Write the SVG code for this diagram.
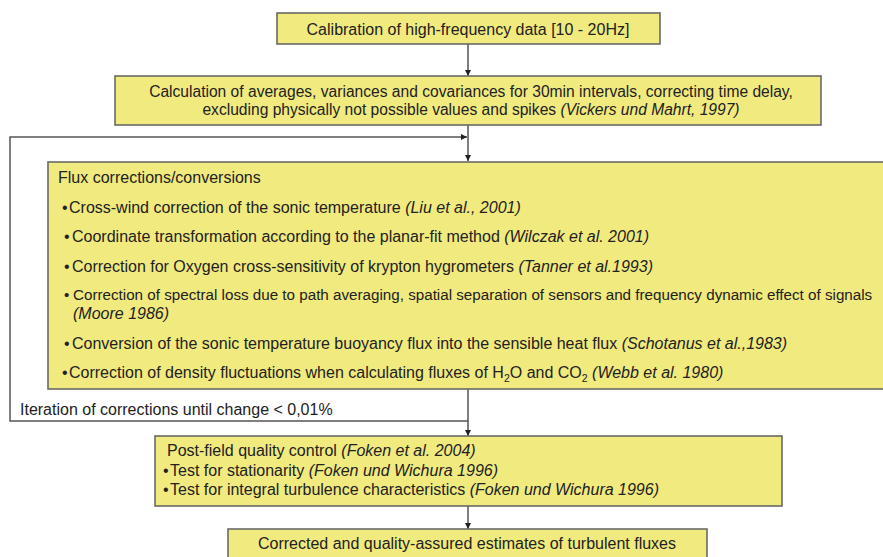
<svg xmlns="http://www.w3.org/2000/svg" width="883" height="557" viewBox="0 0 883 557">
  <style>
    .box { fill: #f1ea7e; stroke: #6a6a66; stroke-width: 1.6; }
    text { font-family: "Liberation Sans", Arial, sans-serif; font-size: 16px; fill: #222; }
    .c { text-anchor: middle; }
    .i { font-style: italic; }
    .sub { font-size: 10.5px; }
    .line { fill: none; stroke: #555; stroke-width: 1.5; }
  </style>
  <defs>
    <marker id="arr" viewBox="0 0 10 10" refX="10" refY="5" markerWidth="6" markerHeight="6" markerUnits="userSpaceOnUse" orient="auto">
      <path d="M0,0 L10,5 L0,10 Z" fill="#222"/>
    </marker>
  </defs>

  <g id="connectors">
    <line class="line" x1="468" y1="44" x2="468" y2="76" marker-end="url(#arr)"/>
    <line class="line" x1="468" y1="125" x2="468" y2="161" marker-end="url(#arr)"/>
    <path class="line" d="M468,389 V421 H10 V137 H467" marker-end="url(#arr)"/>
    <line class="line" x1="468" y1="421" x2="468" y2="436" marker-end="url(#arr)"/>
    <line class="line" x1="468" y1="506" x2="468" y2="529" marker-end="url(#arr)"/>
  </g>

  <g id="calibration">
    <rect class="box" x="277" y="13" width="383" height="31"/>
    <text class="c" x="468" y="35">Calibration of high-frequency data [10 - 20Hz]</text>
  </g>

  <g id="averages">
    <rect class="box" x="115" y="76" width="706" height="49"/>
    <text class="c" x="471" y="97" style="font-size:15.6px">Calculation of averages, variances and covariances for 30min intervals, correcting time delay,</text>
    <text class="c" x="471" y="115" style="font-size:15.6px">excluding physically not possible values and spikes <tspan class="i">(Vickers und Mahrt, 1997)</tspan></text>
  </g>

  <g id="flux-corrections">
    <rect class="box" x="48" y="162" width="845" height="227"/>
    <text x="58" y="183">Flux corrections/conversions</text>
    <text x="62" y="213">•<tspan x="69">Cross-wind correction of the sonic temperature </tspan><tspan class="i">(Liu et al., 2001)</tspan></text>
    <text x="64" y="242">•<tspan x="72">Coordinate transformation according to the planar-fit method </tspan><tspan class="i">(Wilczak et al. 2001)</tspan></text>
    <text x="64" y="272">•<tspan x="72">Correction for Oxygen cross-sensitivity of krypton hygrometers </tspan><tspan class="i">(Tanner et al.1993)</tspan></text>
    <text x="64" y="300" style="font-size:15.2px">•<tspan x="73">Correction of spectral loss due to path averaging, spatial separation of sensors and frequency dynamic effect of signals</tspan></text>
    <text class="i" x="73" y="319">(Moore 1986)</text>
    <text x="64" y="349">•<tspan x="72">Conversion of the sonic temperature buoyancy flux into the sensible heat flux </tspan><tspan class="i">(Schotanus et al.,1983)</tspan></text>
    <text x="62" y="378">•<tspan x="69">Correction of density fluctuations when calculating fluxes of H</tspan><tspan class="sub" dy="4">2</tspan><tspan dy="-4">O and CO</tspan><tspan class="sub" dy="4">2</tspan><tspan class="i" dy="-4"> (Webb et al. 1980)</tspan></text>
  </g>

  <g id="iteration-label">
    <text x="20" y="415">Iteration of corrections until change &lt; 0,01%</text>
  </g>

  <g id="quality-control">
    <rect class="box" x="155" y="436" width="627" height="70"/>
    <text x="167" y="456">Post-field quality control <tspan class="i">(Foken et al. 2004)</tspan></text>
    <text x="163" y="476">•<tspan x="170">Test for stationarity </tspan><tspan class="i">(Foken und Wichura 1996)</tspan></text>
    <text x="163" y="495">•<tspan x="170">Test for integral turbulence characteristics </tspan><tspan class="i">(Foken und Wichura 1996)</tspan></text>
  </g>

  <g id="result">
    <rect class="box" x="228" y="529" width="479" height="40"/>
    <text class="c" x="467" y="549">Corrected and quality-assured estimates of turbulent fluxes</text>
  </g>
</svg>
